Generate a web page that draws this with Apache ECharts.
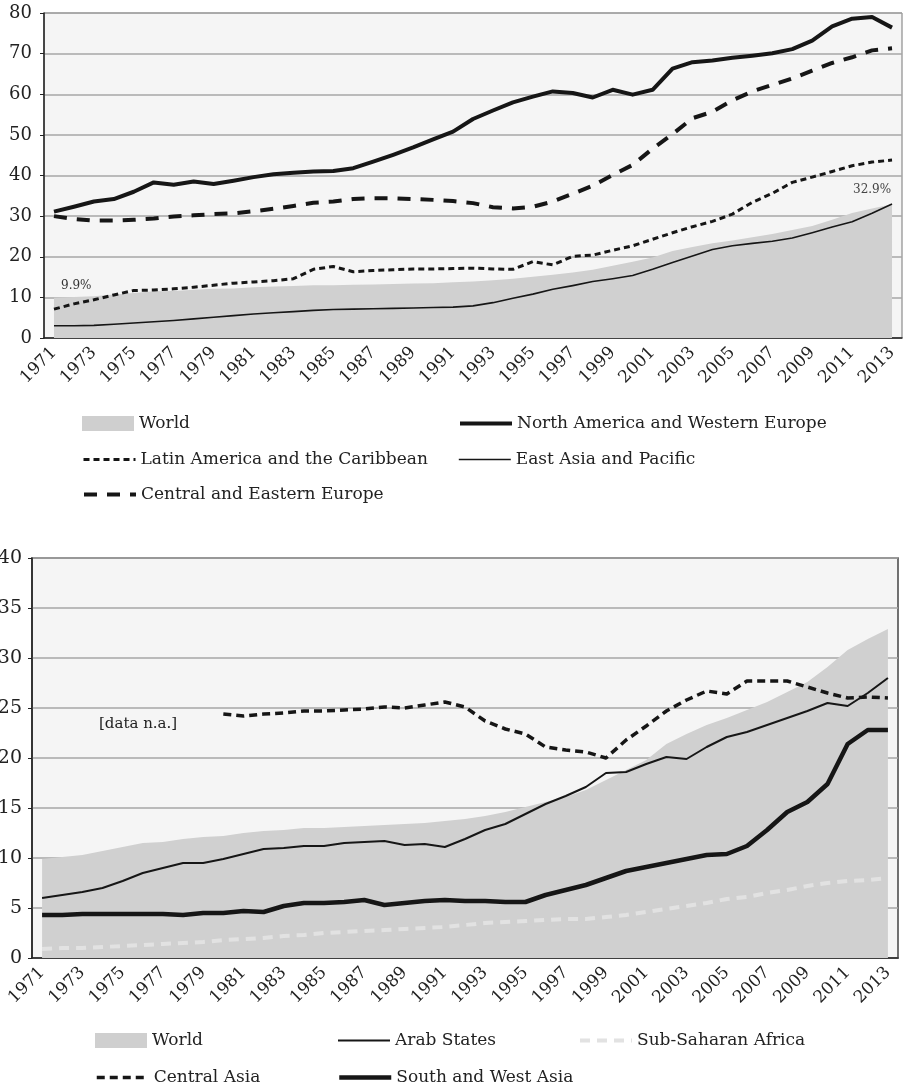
<!DOCTYPE html>
<html>
<head>
<meta charset="utf-8">
<script src="https://cdn.jsdelivr.net/npm/echarts@6/dist/echarts.min.js"></script>
<style>
  html, body { margin: 0; padding: 0; background: #fff; }
  #chart { width: 904px; height: 1090px; }
</style>
</head>
<body>
<div id="chart"></div>
<script>
const years = ['1971', '1972', '1973', '1974', '1975', '1976', '1977', '1978', '1979', '1980',
    '1981', '1982', '1983', '1984', '1985', '1986', '1987', '1988', '1989', '1990',
    '1991', '1992', '1993', '1994', '1995', '1996', '1997', '1998', '1999', '2000',
    '2001', '2002', '2003', '2004', '2005', '2006', '2007', '2008', '2009', '2010',
    '2011', '2012', '2013'];

// gross enrolment ratio, %
const world = [9.9, 10.1, 10.3, 10.7, 11.1, 11.5, 11.6, 11.9, 12.1, 12.2,
    12.5, 12.7, 12.8, 13.0, 13.0, 13.1, 13.2, 13.3, 13.4, 13.5,
    13.7, 13.9, 14.2, 14.6, 15.1, 15.6, 16.1, 16.8, 17.8, 18.8,
    19.8, 21.4, 22.4, 23.3, 24.0, 24.8, 25.6, 26.6, 27.6, 29.1,
    30.8, 31.9, 32.9];
const northAmericaWesternEurope = [31.1, 32.3, 33.6, 34.2, 36.0, 38.3, 37.7, 38.5, 37.9, 38.7,
    39.6, 40.3, 40.7, 41.0, 41.1, 41.8, 43.4, 45.1, 46.9, 48.9,
    50.8, 53.9, 56.0, 58.0, 59.4, 60.7, 60.3, 59.2, 61.1, 59.9,
    61.1, 66.3, 67.9, 68.3, 69.0, 69.5, 70.1, 71.1, 73.2, 76.7,
    78.6, 79.0, 76.4];
const latinAmerica = [7.1, 8.4, 9.4, 10.6, 11.7, 11.8, 12.1, 12.5, 13.0, 13.5,
    13.8, 14.1, 14.6, 16.9, 17.6, 16.3, 16.6, 16.8, 17.0, 17.0,
    17.1, 17.2, 17.0, 16.9, 18.8, 18.0, 20.1, 20.4, 21.6, 22.7,
    24.3, 25.9, 27.4, 28.7, 30.5, 33.4, 35.6, 38.3, 39.6, 41.0,
    42.4, 43.3, 43.8];
const eastAsiaPacific = [3.0, 3.0, 3.1, 3.4, 3.7, 4.0, 4.3, 4.7, 5.1, 5.5,
    5.9, 6.2, 6.5, 6.8, 7.0, 7.1, 7.2, 7.3, 7.4, 7.5,
    7.6, 7.9, 8.7, 9.8, 10.8, 12.0, 12.9, 13.9, 14.6, 15.4,
    16.9, 18.6, 20.2, 21.8, 22.7, 23.3, 23.8, 24.6, 25.9, 27.3,
    28.6, 30.7, 33.0];
const centralEasternEurope = [30.0, 29.3, 28.9, 28.9, 29.1, 29.4, 29.9, 30.2, 30.5, 30.7,
    31.2, 31.8, 32.5, 33.3, 33.6, 34.2, 34.4, 34.4, 34.2, 34.0,
    33.7, 33.2, 32.2, 31.9, 32.3, 33.6, 35.5, 37.5, 40.1, 42.6,
    46.6, 50.2, 54.1, 55.7, 58.5, 60.7, 62.3, 63.9, 65.8, 67.7,
    69.1, 70.8, 71.3];

const arabStates = [6.0, 6.3, 6.6, 7.0, 7.7, 8.5, 9.0, 9.5, 9.5, 9.9,
    10.4, 10.9, 11.0, 11.2, 11.2, 11.5, 11.6, 11.7, 11.3, 11.4,
    11.1, 11.9, 12.8, 13.4, 14.4, 15.4, 16.2, 17.1, 18.5, 18.6,
    19.4, 20.1, 19.9, 21.1, 22.1, 22.6, 23.3, 24.0, 24.7, 25.5,
    25.2, 26.5, 28.0];
const subSaharanAfrica = [0.9, 1.0, 1.0, 1.1, 1.2, 1.3, 1.4, 1.5, 1.6, 1.8,
    1.9, 2.0, 2.2, 2.3, 2.5, 2.6, 2.7, 2.8, 2.9, 3.0,
    3.1, 3.3, 3.5, 3.6, 3.7, 3.8, 3.9, 3.9, 4.1, 4.3,
    4.6, 4.9, 5.2, 5.5, 5.9, 6.1, 6.5, 6.8, 7.2, 7.5,
    7.7, 7.8, 8.0];
const centralAsia = [null, null, null, null, null, null, null, null, null, 24.4,
    24.2, 24.4, 24.5, 24.7, 24.7, 24.8, 24.9, 25.1, 25.0, 25.3,
    25.6, 25.1, 23.7, 22.9, 22.4, 21.1, 20.8, 20.6, 20.0, 21.8,
    23.2, 24.7, 25.8, 26.7, 26.4, 27.7, 27.7, 27.7, 27.1, 26.5,
    26.0, 26.1, 26.0];
const southWestAsia = [4.3, 4.3, 4.4, 4.4, 4.4, 4.4, 4.4, 4.3, 4.5, 4.5,
    4.7, 4.6, 5.2, 5.5, 5.5, 5.6, 5.8, 5.3, 5.5, 5.7,
    5.8, 5.7, 5.7, 5.6, 5.6, 6.3, 6.8, 7.3, 8.0, 8.7,
    9.1, 9.5, 9.9, 10.3, 10.4, 11.2, 12.8, 14.6, 15.6, 17.4,
    21.4, 22.8, 22.8];

const FONT = '"DejaVu Serif", serif';
const INK = '#161616';

// line looks, shared by the series and their legend keys
const styles = {
    'North America and Western Europe': {width: 4, type: 'solid', color: INK},
    'Latin America and the Caribbean': {width: 3, type: [6, 4], color: INK},
    'East Asia and Pacific': {width: 1.6, type: 'solid', color: INK},
    'Central and Eastern Europe': {width: 4, type: [13, 10], color: INK},
    'Arab States': {width: 2, type: 'solid', color: INK},
    'Sub-Saharan Africa': {width: 4, type: [10, 7], color: '#e2e2e2'},
    'Central Asia': {width: 3.5, type: [8, 5], color: INK},
    'South and West Asia': {width: 4.5, type: 'solid', color: INK}
};

function line(name, data, idx) {
    let s = styles[name];
    return {
        name: name,
        type: 'line',
        xAxisIndex: idx,
        yAxisIndex: idx,
        data: data,
        symbol: 'none',
        connectNulls: false,
        z: 3,
        itemStyle: {color: s.color},
        lineStyle: {color: s.color, width: s.width, type: s.type, cap: 'butt', join: 'round'}
    };
}

function area(idx) {
    return {
        name: 'World',
        type: 'line',
        xAxisIndex: idx,
        yAxisIndex: idx,
        data: world,
        symbol: 'none',
        z: 2,
        lineStyle: {width: 0},
        itemStyle: {color: '#cfcfcf'},
        areaStyle: {color: '#d0d0d0', opacity: 1}
    };
}

function legend(name, left, top) {
    let item = {name: name};
    if (name == 'World') {
        item.icon = 'rect';
        item.itemStyle = {color: '#cfcfcf', opacity: 1};
    } else {
        let s = styles[name];
        item.itemStyle = {opacity: 0};
        item.lineStyle = {color: s.color, width: s.width, type: s.type, cap: 'butt'};
    }
    return {
        left: left,
        top: top,
        padding: 0,
        selectedMode: false,
        itemWidth: 52,
        itemHeight: 15,
        itemGap: 0,
        data: [item],
        textStyle: {fontFamily: FONT, fontSize: 17, color: '#222'}
    };
}

function xAxis(idx) {
    return {
        gridIndex: idx,
        type: 'category',
        data: years,
        boundaryGap: true,
        axisLine: {lineStyle: {color: '#222', width: 1.5}},
        axisTick: {interval: 0, length: 6, lineStyle: {color: '#222', width: 1}},
        axisLabel: {interval: 1, rotate: 45, margin: 12, fontFamily: FONT, fontSize: 17, color: '#222'},
        splitLine: {show: false}
    };
}

function yAxis(idx, max, step, size, margin) {
    return {
        gridIndex: idx,
        type: 'value',
        min: 0,
        max: max,
        interval: step,
        axisLine: {show: true, lineStyle: {color: '#222', width: 1.5}},
        axisTick: {show: true, length: 4, lineStyle: {color: '#222'}},
        axisLabel: {margin: margin, fontFamily: FONT, fontSize: size, color: '#222'},
        splitLine: {lineStyle: {color: '#a6a6a6', width: 1.5}}
    };
}

const chart = echarts.init(document.getElementById('chart'));
chart.setOption({
    backgroundColor: '#fff',
    animation: false,
    grid: [
        {left: 44, top: 13, width: 858, height: 325, show: true, outerBoundsMode: 'none', containLabel: false,
            backgroundColor: '#f5f5f5', borderColor: '#777', borderWidth: 1},
        {left: 32, top: 558, width: 866, height: 400, show: true, outerBoundsMode: 'none', containLabel: false,
            backgroundColor: '#f5f5f5', borderColor: '#444', borderWidth: 1.5}
    ],
    xAxis: [xAxis(0), xAxis(1)],
    yAxis: [yAxis(0, 80, 10, 18, 12), yAxis(1, 40, 5, 19, 10)],
    legend: [
        legend('World', 82, 415),
        legend('North America and Western Europe', 458, 415),
        legend('Latin America and the Caribbean', 82, 451),
        legend('East Asia and Pacific', 458, 451),
        legend('Central and Eastern Europe', 82, 486),
        legend('World', 95, 1032),
        legend('Arab States', 337, 1032),
        legend('Sub-Saharan Africa', 578, 1032),
        legend('Central Asia', 95, 1069),
        legend('South and West Asia', 337, 1069)
    ],
    graphic: [
        {type: 'text', left: 61, top: 280, style: {text: '9.9%', font: '12px ' + FONT, fill: '#333'}},
        {type: 'text', left: 853, top: 184, style: {text: '32.9%', font: '12px ' + FONT, fill: '#444'}},
        {type: 'text', left: 99, top: 717, style: {text: '[data n.a.]', font: '15px ' + FONT, fill: '#222'}}
    ],
    series: [
        area(0),
        line('East Asia and Pacific', eastAsiaPacific, 0),
        line('Latin America and the Caribbean', latinAmerica, 0),
        line('Central and Eastern Europe', centralEasternEurope, 0),
        line('North America and Western Europe', northAmericaWesternEurope, 0),
        area(1),
        line('Sub-Saharan Africa', subSaharanAfrica, 1),
        line('Arab States', arabStates, 1),
        line('South and West Asia', southWestAsia, 1),
        line('Central Asia', centralAsia, 1)
    ]
});
</script>
</body>
</html>
